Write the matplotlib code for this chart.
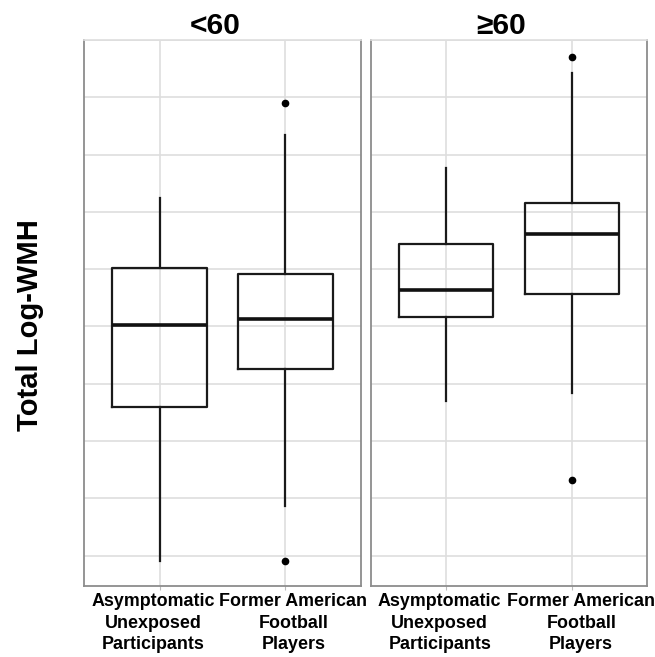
import matplotlib
matplotlib.use("Agg")
from matplotlib import pyplot as plt

plt.rcParams['font.family'] = ['Liberation Sans', 'DejaVu Sans']

panels = ["<60", "\u226560"]
groups = ["Asymptomatic\nUnexposed\nParticipants", "Former American\nFootball\nPlayers"]

# five-number summaries (grid step = 1 unit), per panel
whislo = [[-0.09, 0.87], [2.69, 2.84]]
q1 = [[2.59, 3.26], [4.16, 4.57]]
med = [[4.02, 4.13], [4.63, 5.61]]
q3 = [[5.02, 4.92], [5.44, 6.16]]
whishi = [[6.25, 7.34], [6.77, 8.43]]
fliers = [[[], [7.90, -0.10]], [[], [8.71, 1.32]]]

fig = plt.figure(figsize=(6.55, 6.57), dpi=100)
axes = [fig.add_axes([0.1282, 0.1081, 0.4229, 0.8311]),
        fig.add_axes([0.5664, 0.1081, 0.4214, 0.8311])]

# label shifts in pixels (the original spreads the two labels apart a bit)
shifts = [[-6, 8], [-6.5, 9.5]]

for p, ax in enumerate(axes):
    stats = []
    for g in range(2):
        stats.append(dict(whislo=whislo[p][g], q1=q1[p][g], med=med[p][g],
                          q3=q3[p][g], whishi=whishi[p][g], fliers=fliers[p][g]))
    ax.bxp(stats, positions=[1, 2], widths=0.75, showcaps=False,
           boxprops=dict(color='#1a1a1a', lw=1.6),
           whiskerprops=dict(color='#1a1a1a', lw=1.6),
           medianprops=dict(color='#111111', lw=2.6),
           flierprops=dict(marker='o', markerfacecolor='black',
                           markeredgecolor='black', markersize=4.5))
    ax.set_xlim(0.4, 2.6)
    ax.set_ylim(-0.53, 9.0)
    ax.set_yticks(range(0, 10))
    ax.set_yticklabels([])
    ax.set_xticks([1, 2])
    ax.set_xticklabels([])
    for g, dx in enumerate(shifts[p]):
        ax.annotate(groups[g], xy=(g + 1, 0), xycoords=('data', 'axes fraction'),
                    xytext=(dx * 0.72, -7 * 0.72), textcoords='offset points',
                    ha='center', va='top', multialignment='center',
                    fontsize=12.9, fontweight='bold', linespacing=1.36,
                    annotation_clip=False)
    ax.tick_params(axis='y', length=0)
    ax.tick_params(axis='x', length=3, color='#bbbbbb')
    ax.grid(True, color='#dedede', lw=1.2)
    ax.set_axisbelow(True)
    for side in ['left', 'right', 'bottom']:
        ax.spines[side].set_color('#8c8c8c')
        ax.spines[side].set_linewidth(1.3)
    ax.spines['top'].set_color('#dedede')
    ax.spines['top'].set_linewidth(1.2)
    ax.set_title(panels[p], fontsize=21.5, fontweight='bold', pad=2, x=0.5 - 7.5 / 277)

axes[0].set_ylabel("Total Log-WMH", fontsize=21, fontweight='bold')
axes[0].yaxis.set_label_coords(-0.143, 0.478)

fig.savefig("out.png", dpi=100)
